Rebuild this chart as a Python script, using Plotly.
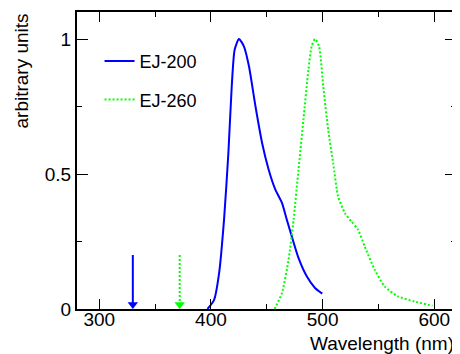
import plotly.graph_objects as go

# EJ-200 emission spectrum (blue, solid)
ej200_nm = [396.9, 402.8, 407.3, 411.7, 415.6, 418.6, 421.2, 425.1, 429.5, 434.0,
            439.9, 445.8, 451.7, 457.7, 463.6, 468.0, 472.4, 478.4, 485.8, 493.2, 499.7]
ej200_val = [0.0, 0.034, 0.133, 0.33, 0.578, 0.824, 0.96, 1.0, 0.973, 0.90,
             0.75, 0.615, 0.516, 0.442, 0.393, 0.33, 0.269, 0.189, 0.121, 0.078, 0.057]

# EJ-260 emission spectrum (green, dotted)
ej260_nm = [457.0, 463.6, 469.5, 474.0, 478.4, 482.8, 487.3, 490.2, 493.2, 496.8,
            500.6, 505.0, 509.5, 513.9, 519.9, 525.8, 531.7, 537.7, 546.6, 555.5,
            567.3, 582.1, 598.4]
ej260_val = [0.0, 0.059, 0.183, 0.33, 0.516, 0.70, 0.886, 0.973, 1.0, 0.973,
             0.824, 0.664, 0.54, 0.417, 0.356, 0.324, 0.294, 0.232, 0.146, 0.084,
             0.047, 0.028, 0.012]

# Excitation arrows (wavelength, top value)
arrow_nm = [330, 372]
arrow_top = 0.2

names = ["EJ-200", "EJ-260"]
x_tickvals = [300, 400, 500, 600]
y_tickvals = [0, 0.5, 1]
y_ticktext = ["0", "0.5", "1"]

BLUE = "#0000ff"
GREEN = "#00ff00"
FONT = "Liberation Sans, Arial, Helvetica, sans-serif"

fig = go.Figure()
fig.add_trace(go.Scatter(x=ej200_nm, y=ej200_val, mode="lines", name=names[0],
                         line=dict(color=BLUE, width=2, shape="spline", smoothing=0.6),
                         legendgroup="a"))
fig.add_trace(go.Scatter(x=ej260_nm, y=ej260_val, mode="lines", name=names[1],
                         line=dict(color=GREEN, width=2, dash="2px,2px", shape="spline", smoothing=0.6),
                         legendgroup="b"))

# arrows: shafts + heads
head_off = 0.0165
for xv, col, dash in [(arrow_nm[0], BLUE, "solid"), (arrow_nm[1], GREEN, "2px,2px")]:
    fig.add_trace(go.Scatter(x=[xv, xv], y=[arrow_top, head_off], mode="lines",
                             line=dict(color=col, width=2, dash=dash), showlegend=False,
                             hoverinfo="skip"))
    fig.add_trace(go.Scatter(x=[xv], y=[head_off], mode="markers",
                             marker=dict(symbol="triangle-down", size=9, color=col),
                             showlegend=False, hoverinfo="skip"))

axis_common = dict(
    showline=True, linecolor="black", linewidth=2, mirror="ticks",
    ticks="inside", tickcolor="black", tickwidth=1, showgrid=False, zeroline=False,
    tickfont=dict(family=FONT, size=19, color="black"),
)

fig.update_xaxes(range=[280, 619.5], tickvals=x_tickvals, ticklen=10, ticklabelstandoff=-8,
                 minor=dict(ticks="inside", ticklen=5, dtick=50, tick0=300, tickcolor="black",
                            tickwidth=1, showgrid=False),
                 **axis_common)
fig.update_yaxes(range=[0, 1.1], tickvals=y_tickvals, ticktext=y_ticktext, ticklen=11,
                 minor=dict(ticks="inside", ticklen=5, dtick=0.25, tick0=0, tickcolor="black",
                            tickwidth=1, showgrid=False),
                 **axis_common)

fig.add_annotation(text="Wavelength (nm)", xref="paper", yref="paper", x=1.0, y=0,
                   xanchor="right", yanchor="top", yshift=-22, showarrow=False,
                   font=dict(family=FONT, size=19, color="black"))
fig.add_annotation(text="arbitrary units", xref="paper", yref="paper", x=0, y=1.0,
                   xanchor="center", yanchor="top", xshift=-56, textangle=-90, showarrow=False,
                   font=dict(family=FONT, size=19, color="black"))

fig.update_layout(
    width=452, height=346,
    margin=dict(l=69, r=2, t=4, b=45),
    paper_bgcolor="white", plot_bgcolor="white",
    showlegend=True,
    legend=dict(x=0.0595, y=0.896, xanchor="left", yanchor="top", bgcolor="rgba(0,0,0,0)",
                font=dict(family=FONT, size=18, color="black"), tracegroupgap=12,
                itemwidth=30),
)

fig.write_html("out.html")
